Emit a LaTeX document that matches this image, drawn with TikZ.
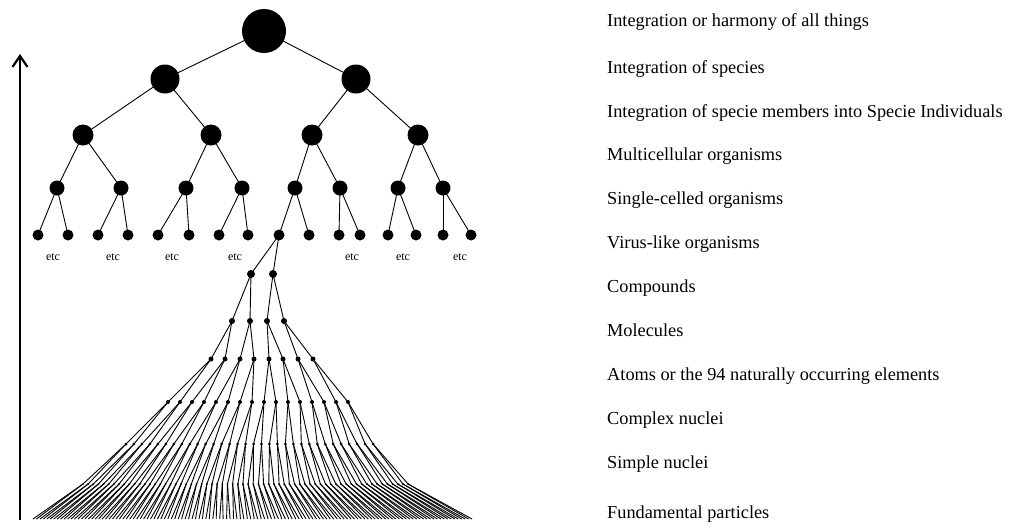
\documentclass[tikz,border=0pt]{standalone}
\usepackage{fontspec}
\setmainfont{Liberation Serif}
\usetikzlibrary{arrows.meta}
\begin{document}
\begin{tikzpicture}[x=1pt,y=-1pt,
  dot/.style={circle,fill=black,draw=none,inner sep=0pt,minimum size=#1},
  edge/.style={line width=0.9pt,black},
  lab/.style={anchor=base west,font=\fontsize{18.3}{20}\selectfont,inner sep=0pt},
  etclab/.style={font=\fontsize{12}{13}\selectfont,inner sep=0pt}]
\useasboundingbox (0,0) rectangle (1010,528);
% upward arrow
\coordinate (arrB) at (20,520);
\coordinate (arrT) at (20,54);
\draw[line width=2.2pt,-{Straight Barb[length=11pt,width=15pt]}] (arrB) -- (arrT);
% level 1-5
\node[dot=44] (L1-1) at (264,31) {};
\foreach \x [count=\i] in {165,356} \node[dot=29] (L2-\i) at (\x,79) {};
\foreach \x [count=\i] in {83,211,312,418} \node[dot=21] (L3-\i) at (\x,135) {};
\foreach \x [count=\i] in {57,121,186,242,295,340,398,443} \node[dot=15] (L4-\i) at (\x,188) {};
\foreach \x [count=\i] in {38,68,98,128,158,189,219,248,279,309,339,360,388,416,443,471} \node[dot=11] (L5-\i) at (\x,235) {};
% level 6-11
\foreach \x [count=\i] in {251,273} \node[dot=8] (L6-\i) at (\x,274) {};
\foreach \x [count=\i] in {232,250,267,284} \node[dot=6] (L7-\i) at (\x,321) {};
\foreach \x [count=\i] in {211,225,240,254,269,283,298,313} \node[dot=5] (L8-\i) at (\x,359) {};
\foreach \i in {1,...,16} \node[dot=4] (L9-\i) at ({168+12*(\i-1)},402) {};
\foreach \i in {1,...,32} \node[dot=3] (L10-\i) at ({126+7.97*(\i-1)},444) {};
\foreach \i in {1,...,64} \node[dot=2] (L11-\i) at ({83+5.16*(\i-1)},484) {};
\foreach \i in {1,...,128} \coordinate (L12-\i) at ({33+3.457*(\i-1)},519);
% edges
\foreach \i in {1,2} \draw[edge] (L1-1.center) -- (L2-\i.center);
\foreach \i in {1,...,4} {\pgfmathtruncatemacro\p{(\i+1)/2}\draw[edge] (L2-\p.center) -- (L3-\i.center);}
\foreach \i in {1,...,8} {\pgfmathtruncatemacro\p{(\i+1)/2}\draw[edge] (L3-\p.center) -- (L4-\i.center);}
\foreach \i in {1,...,16} {\pgfmathtruncatemacro\p{(\i+1)/2}\draw[edge] (L4-\p.center) -- (L5-\i.center);}
\foreach \i in {1,2} \draw[edge] (L5-9.center) -- (L6-\i.center);
\foreach \i in {1,...,4} {\pgfmathtruncatemacro\p{(\i+1)/2}\draw[edge] (L6-\p.center) -- (L7-\i.center);}
\foreach \i in {1,...,8} {\pgfmathtruncatemacro\p{(\i+1)/2}\draw[edge] (L7-\p.center) -- (L8-\i.center);}
\foreach \i in {1,...,16} {\pgfmathtruncatemacro\p{(\i+1)/2}\draw[edge] (L8-\p.center) -- (L9-\i.center);}
\foreach \i in {1,...,32} {\pgfmathtruncatemacro\p{(\i+1)/2}\draw[edge] (L9-\p.center) -- (L10-\i.center);}
\foreach \i in {1,...,64} {\pgfmathtruncatemacro\p{(\i+1)/2}\draw[edge] (L10-\p.center) -- (L11-\i.center);}
\foreach \i in {1,...,128} {\pgfmathtruncatemacro\p{(\i+1)/2}\draw[edge] (L11-\p.center) -- (L12-\i);}
% etc labels
\foreach \x [count=\i] in {53,113,172,235,352,403,460} \node[etclab] (etc\i) at (\x,257) {etc};
% right-hand labels
\node[lab] (t1) at (607,26) {Integration or harmony of all things};
\node[lab] (t2) at (607,73) {Integration of species};
\node[lab] (t3) at (607,117) {Integration of specie members into Specie Individuals};
\node[lab] (t4) at (607,160) {Multicellular organisms};
\node[lab] (t5) at (607,204) {Single-celled organisms};
\node[lab] (t6) at (607,248) {Virus-like organisms};
\node[lab] (t7) at (607,292) {Compounds};
\node[lab] (t8) at (607,336) {Molecules};
\node[lab] (t9) at (607,380) {Atoms or the 94 naturally occurring elements};
\node[lab] (t10) at (607,424) {Complex nuclei};
\node[lab] (t11) at (607,468) {Simple nuclei};
\node[lab] (t12) at (607,518) {Fundamental particles};
\end{tikzpicture}
\end{document}
